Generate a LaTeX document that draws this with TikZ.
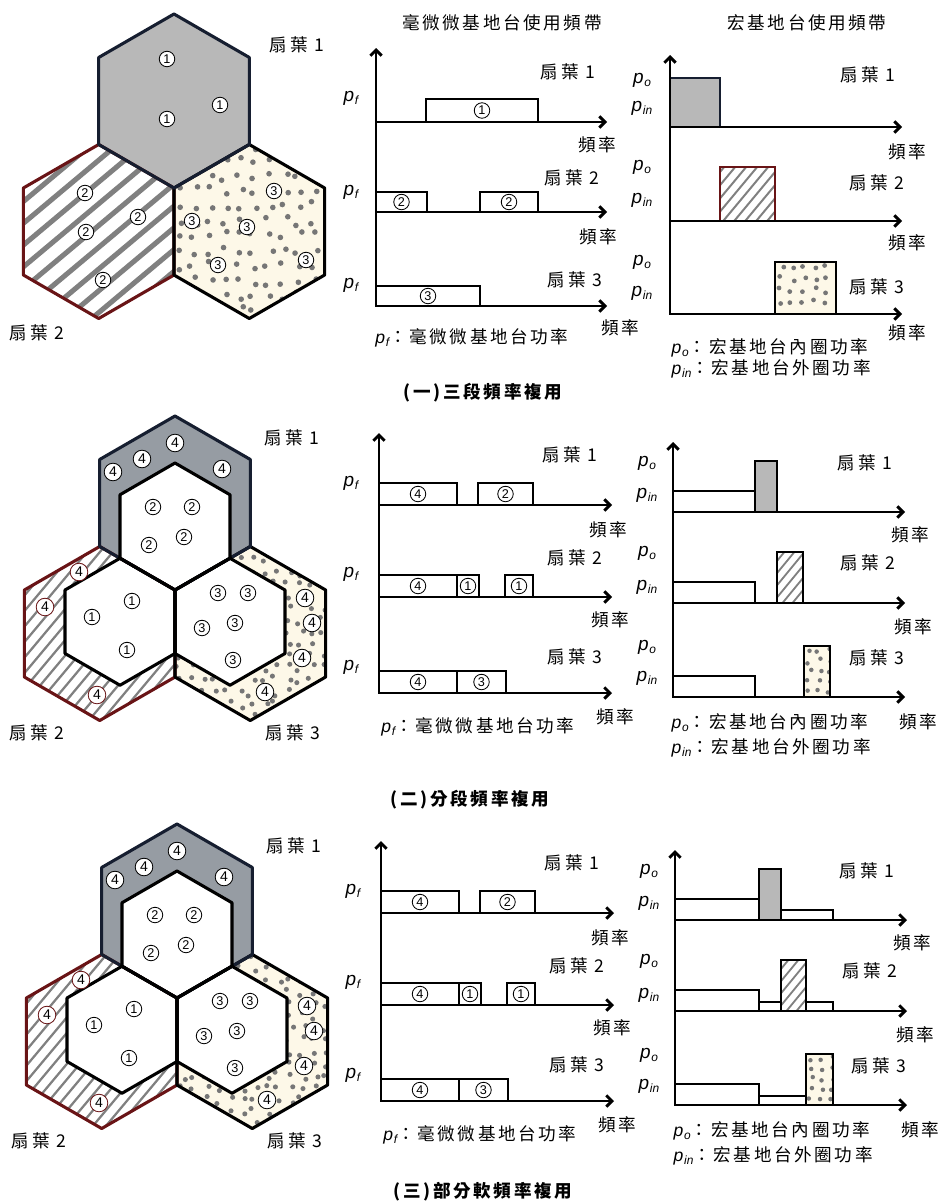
\documentclass[tikz,border=0pt]{standalone}
\usepackage{fontspec}
\newfontfamily\cjk[LetterSpace=15]{Noto Sans CJK TC}
\newfontfamily\lsans{Liberation Sans}
\usetikzlibrary{arrows.meta}
\definecolor{hexgray}{RGB}{184,184,184}
\definecolor{bandgray}{RGB}{150,156,163}
\definecolor{stripegray}{RGB}{128,128,128}
\definecolor{dotgray}{RGB}{118,118,118}
\definecolor{cream}{RGB}{253,248,232}
\definecolor{maroon}{RGB}{105,20,22}
\definecolor{navy}{RGB}{22,30,48}
% pointy-top hexagon: centre x, centre y, radius
\newcommand{\hexat}[3]{(#1,#2) +(30:#3) -- +(90:#3) -- +(150:#3) -- +(210:#3) -- +(270:#3) -- +(330:#3) -- cycle}
% power symbol with its index
\newcommand{\pp}[1]{{\lsans\itshape p\kern0.5pt\raisebox{-0.3ex}{\fontsize{8.5}{8.5}\selectfont #1}}}

\begin{document}
\begin{tikzpicture}[x=0.025cm, y=-0.025cm,
  lab/.style={font=\cjk\fontsize{12.5}{14}\selectfont, inner sep=1pt},
  plab/.style={font=\fontsize{13.5}{14}\selectfont, inner sep=1pt},
  num/.style={circle, draw, line width=0.6pt, fill=white, inner sep=0pt,
              minimum size=11pt, font=\lsans\fontsize{9}{9}\selectfont},
  bignum/.style={num, minimum size=12.5pt, font=\lsans\fontsize{10}{10}\selectfont},
  freqax/.style={line width=2.1pt, -{Straight Barb[length=4pt,width=8pt]}},
  freqaxes/.style={line width=2.1pt, {Straight Barb[length=4pt,width=8pt]}-{Straight Barb[length=4pt,width=8pt]}},
  bar/.style={draw, line width=1.8pt},
  hexline/.style={line width=2.2pt, line join=round}]
\useasboundingbox (0,0) rectangle (940,1203);
\pgfmathsetseed{11}

% --- (一) cells ---
\fill[hexgray] \hexat{174}{101}{87};
\fill[cream] \hexat{249.3}{231.5}{87};
\begin{scope}
  \clip \hexat{98.7}{231.5}{87};
  \foreach \s in {-240,-214,...,190}
    \draw[stripegray, line width=3.6pt] (\s,335) -- ++(240,-201);
\end{scope}
\begin{scope}
  \clip \hexat{249.3}{231.5}{87};
  \foreach \xx in {164,179,...,334}
    \foreach \yy in {146,161,...,318}
      \fill[dotgray] (\xx+4.5*rand,\yy+4.5*rand) circle (2pt);
\end{scope}
\draw[maroon, hexline] \hexat{98.7}{231.5}{87};
\draw[hexline] \hexat{249.3}{231.5}{87};
\draw[navy, hexline] \hexat{174}{101}{87};

\foreach \x/\y [count=\i] in {167/59, 220/105, 167/119}
  \node[num] (a1-\i) at (\x,\y) {1};
\foreach \x/\y [count=\i] in {85/193, 138/217, 86/232, 103/280}
  \node[num] (a2-\i) at (\x,\y) {2};
\foreach \x/\y [count=\i] in {274/191, 192/221, 247/227, 218/265, 306/260}
  \node[num] (a3-\i) at (\x,\y) {3};
\node[lab] (as1) at (297,45) {扇葉 1};
\node[lab] (as2) at (37,333) {扇葉 2};

% --- (一) femtocell bands ---
\node[lab] (ftitle) at (502,23) {毫微微基地台使用頻帶};
\draw[bar] (426,99) rectangle (538,122);
\draw[bar] (376,192) rectangle (427,212);
\draw[bar] (480,192) rectangle (538,212);
\draw[bar] (376,286) rectangle (480,306);
\draw[freqaxes] (376,48) -- (376,306) -- (607,306);
\draw[freqax] (376,122) -- (607,122);
\draw[freqax] (376,212) -- (607,212);
\node[num] (f1-1) at (482,110.5) {1};
\node[num] (f2-1) at (401.5,202) {2};
\node[num] (f2-2) at (509,202) {2};
\node[num] (f3-1) at (428,296) {3};
\node[plab] (fp1) at (351,98) {\pp{f}};
\node[plab] (fp2) at (351,192) {\pp{f}};
\node[plab] (fp3) at (351,285) {\pp{f}};
\node[lab] (fs1) at (568,72) {扇葉 1};
\node[lab] (fs2) at (572,178) {扇葉 2};
\node[lab] (fs3) at (575,280) {扇葉 3};
\node[lab] (ff1) at (597,145) {頻率};
\node[lab] (ff2) at (598,237) {頻率};
\node[lab] (ff3) at (620,328) {頻率};
\node[lab] (fleg) at (472,338) {\pp{f}：毫微微基地台功率};

% --- (一) macrocell bands ---
\node[lab] (mtitle) at (807,23) {宏基地台使用頻帶};
\fill[hexgray] (670,78) rectangle (720,127);
\begin{scope}
  \clip (720,167) rectangle (775,221);
  \foreach \s in {664,675,...,780}
    \draw[stripegray, line width=1.4pt] (\s,226) -- ++(55,-66);
\end{scope}
\fill[cream] (775,262) rectangle (836,314);
\begin{scope}
  \clip (775,262) rectangle (836,314);
  \foreach \xx in {781,792,...,832}
    \foreach \yy in {268,279,...,310}
      \fill[dotgray] (\xx+3*rand,\yy+3*rand) circle (1.7pt);
\end{scope}
\draw[bar, navy] (670,78) rectangle (720,127);
\draw[bar, maroon] (720,167) rectangle (775,221);
\draw[bar] (775,262) rectangle (836,314);
\draw[freqaxes] (670,55) -- (670,314) -- (902,314);
\draw[freqax] (670,127) -- (902,127);
\draw[freqax] (670,221) -- (902,221);
\foreach \y/\n [count=\i] in {80/o, 108/in, 167/o, 200/in, 262/o, 293/in}
  \node[plab] (mp\i) at (642,\y) {\pp{\n}};
\node[lab] (ms1) at (868,75) {扇葉 1};
\node[lab] (ms2) at (877,183) {扇葉 2};
\node[lab] (ms3) at (877,287) {扇葉 3};
\node[lab] (mf1) at (907,152) {頻率};
\node[lab] (mf2) at (907,243) {頻率};
\node[lab] (mf3) at (907,333) {頻率};
\node[lab, anchor=west] (mleg1) at (670,348) {\pp{o}：宏基地台內圈功率};
\node[lab, anchor=west] (mleg2) at (670,369) {\pp{in}：宏基地台外圈功率};
\node[lab, font=\cjk\bfseries\fontsize{12.5}{14}\selectfont] (cap1) at (483,393) {(一)三段頻率複用};

% --- (二) and (三): cells, femtocell bands, macrocell axes ---
\foreach \dx/\dy in {0/0, 2/408} {
\begin{scope}[shift={(\dx,\dy)}]
  \fill[bandgray] \hexat{175}{503}{87};
  \fill[cream] \hexat{250.3}{633.5}{87};
  \begin{scope}
    \clip \hexat{99.7}{633.5}{87};
    \foreach \s in {-175,-162,...,185}
      \draw[stripegray, line width=1.6pt] (\s,725) -- ++(165,-197);
  \end{scope}
  \begin{scope}
    \clip \hexat{250.3}{633.5}{87};
    \foreach \xx in {168,180,...,330}
      \foreach \yy in {548,560,...,722}
        \fill[dotgray] (\xx+4*rand,\yy+4*rand) circle (1.8pt);
  \end{scope}
  \fill[white] \hexat{175}{526.5}{63.5};
  \fill[white] \hexat{120}{621.75}{63.5};
  \fill[white] \hexat{230}{621.75}{63.5};
  \draw[maroon, hexline] \hexat{99.7}{633.5}{87};
  \draw[hexline] \hexat{250.3}{633.5}{87};
  \draw[navy, hexline] \hexat{175}{503}{87};
  \draw[hexline] \hexat{175}{526.5}{63.5};
  \draw[hexline] \hexat{120}{621.75}{63.5};
  \draw[hexline] \hexat{230}{621.75}{63.5};

  \foreach \x/\y [count=\i] in {113/472, 142/459, 175/443, 222/469}
    \node[bignum] (b4-\i) at (\x,\y) {4};
  \foreach \x/\y [count=\i] in {79/572, 45/607, 97/695}
    \node[bignum, draw=maroon] (l4-\i) at (\x,\y) {4};
  \foreach \x/\y [count=\i] in {305/598, 312/623, 302/658, 265/692}
    \node[bignum] (r4-\i) at (\x,\y) {4};
  \foreach \x/\y [count=\i] in {153/507, 192/507, 149/545, 184/537}
    \node[num] (c2-\i) at (\x,\y) {2};
  \foreach \x/\y [count=\i] in {132/601, 92/617, 127/650}
    \node[num] (c1-\i) at (\x,\y) {1};
  \foreach \x/\y [count=\i] in {218/593, 248/593, 202/628, 235/623, 233/660}
    \node[num] (c3-\i) at (\x,\y) {3};
  \node[lab] (cs1) at (292,438) {扇葉 1};
  \node[lab] (cs2) at (37,733) {扇葉 2};
  \node[lab] (cs3) at (293,733) {扇葉 3};

  % femtocell bands
  \draw[bar] (379,483) rectangle (457,505);
  \draw[bar] (478,483) rectangle (533,505);
  \draw[bar] (379,575) rectangle (457,597);
  \draw[bar] (457,575) rectangle (479,597);
  \draw[bar] (505,575) rectangle (533,597);
  \draw[bar] (379,671) rectangle (457,693);
  \draw[bar] (457,671) rectangle (506,693);
  \draw[freqaxes] (379,433) -- (379,693) -- (612,693);
  \draw[freqax] (379,505) -- (612,505);
  \draw[freqax] (379,597) -- (612,597);
  \node[num] (g1-1) at (418,494) {4};
  \node[num] (g1-2) at (505.5,494) {2};
  \node[num] (g2-1) at (418,586) {4};
  \node[num] (g2-2) at (468,586) {1};
  \node[num] (g2-3) at (519,586) {1};
  \node[num] (g3-1) at (418,682) {4};
  \node[num] (g3-2) at (481.5,682) {3};
  \node[plab] (gp1) at (351,483) {\pp{f}};
  \node[plab] (gp2) at (351,574) {\pp{f}};
  \node[plab] (gp3) at (351,667) {\pp{f}};
  \node[lab] (gs1) at (570,455) {扇葉 1};
  \node[lab] (gs2) at (575,558) {扇葉 2};
  \node[lab] (gs3) at (575,657) {扇葉 3};
  \node[lab] (gf1) at (608,530) {頻率};
  \node[lab] (gf2) at (610,620) {頻率};
  \node[lab] (gf3) at (615,717) {頻率};
  \node[lab] (gleg) at (478,727) {\pp{f}：毫微微基地台功率};

  % macrocell axes
  \draw[freqaxes] (673,442) -- (673,697) -- (905,697);
  \draw[freqax] (673,512) -- (905,512);
  \draw[freqax] (673,603) -- (905,603);
  \foreach \y/\n [count=\i] in {463/o, 495/in, 553/o, 587/in, 647/o, 678/in}
    \node[plab] (hp\i) at (647,\y) {\pp{\n}};
  \node[lab] (hs1) at (865,463) {扇葉 1};
  \node[lab] (hs2) at (868,563) {扇葉 2};
  \node[lab] (hs3) at (877,658) {扇葉 3};
  \node[lab] (hf1) at (910,535) {頻率};
  \node[lab] (hf2) at (913,627) {頻率};
  \node[lab] (hf3) at (918,722) {頻率};
  \node[lab, anchor=west] (hleg1) at (670,723) {\pp{o}：宏基地台內圈功率};
  \node[lab, anchor=west] (hleg2) at (670,748) {\pp{in}：宏基地台外圈功率};
\end{scope}
}

% --- (二) macrocell bars ---
\draw[bar] (673,491) rectangle (755,512);
\draw[bar, fill=hexgray] (755,461) rectangle (777,512);
\draw[bar] (673,582) rectangle (755,603);
\begin{scope}
  \clip (777,552) rectangle (803,603);
  \foreach \s in {730,740,...,810}
    \draw[stripegray, line width=1.3pt] (\s,606) -- ++(46,-56);
\end{scope}
\draw[bar] (777,552) rectangle (803,603);
\draw[bar] (673,676) rectangle (755,697);
\fill[cream] (804,646) rectangle (830,697);
\begin{scope}
  \clip (804,646) rectangle (830,697);
  \foreach \xx in {809,819,829}
    \foreach \yy in {651,661,...,695}
      \fill[dotgray] (\xx+2.5*rand,\yy+2.5*rand) circle (1.6pt);
\end{scope}
\draw[bar] (804,646) rectangle (830,697);
\node[lab, font=\cjk\bfseries\fontsize{12.5}{14}\selectfont] (cap2) at (470,800) {(二)分段頻率複用};

% --- (三) macrocell bars ---
\begin{scope}[shift={(2,408)}]
  \draw[bar] (673,491) rectangle (757,512);
  \draw[bar, fill=hexgray] (757,461) rectangle (779,512);
  \draw[bar] (779,502) rectangle (831,512);
  \draw[bar] (673,582) rectangle (757,603);
  \draw[bar] (757,594) rectangle (779,603);
  \begin{scope}
    \clip (779,552) rectangle (804,603);
    \foreach \s in {732,742,...,812}
      \draw[stripegray, line width=1.3pt] (\s,606) -- ++(46,-56);
  \end{scope}
  \draw[bar] (779,552) rectangle (804,603);
  \draw[bar] (804,594) rectangle (831,603);
  \draw[bar] (673,676) rectangle (757,697);
  \draw[bar] (757,688) rectangle (804,697);
  \fill[cream] (804,646) rectangle (831,697);
  \begin{scope}
    \clip (804,646) rectangle (831,697);
    \foreach \xx in {809,819,829}
      \foreach \yy in {651,661,...,695}
        \fill[dotgray] (\xx+2.5*rand,\yy+2.5*rand) circle (1.6pt);
  \end{scope}
  \draw[bar] (804,646) rectangle (831,697);
\end{scope}
\node[lab, font=\cjk\bfseries\fontsize{12.5}{14}\selectfont] (cap3) at (483,1192) {(三)部分軟頻率複用};

\end{tikzpicture}
\end{document}
